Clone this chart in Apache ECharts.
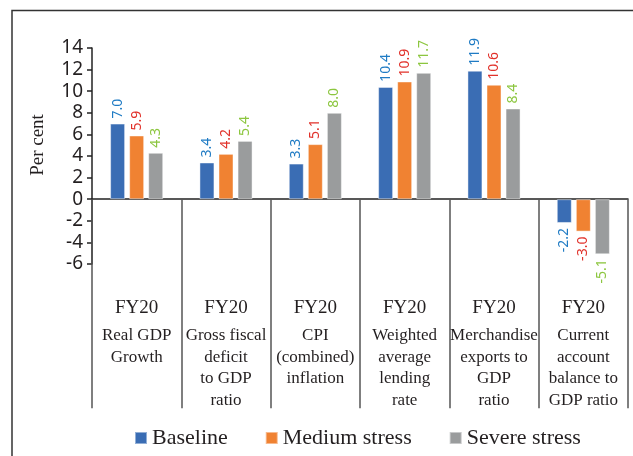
<!DOCTYPE html>
<html><head><meta charset="utf-8">
<script src="https://cdn.jsdelivr.net/npm/echarts@6/dist/echarts.min.js"></script>
<style>html,body{margin:0;padding:0;background:#fff}#c{width:633px;height:456px}</style>
</head><body><div id="c"></div>
<script>
var yearLabel = "FY20";
var categories = ["Real GDP\nGrowth", "Gross fiscal\ndeficit\nto GDP\nratio", "CPI\n(combined)\ninflation", "Weighted\naverage\nlending\nrate", "Merchandise\nexports to\nGDP\nratio", "Current\naccount\nbalance to\nGDP ratio"];
var seriesNames = ["Baseline", "Medium stress", "Severe stress"];
var baseline = [7.0, 3.4, 3.3, 10.4, 11.9, -2.2];
var medium = [5.9, 4.2, 5.1, 10.9, 10.6, -3.0];
var severe = [4.3, 5.4, 8.0, 11.7, 8.4, -5.1];
var yTicks = {min: -6, max: 14, interval: 2};

var barColors = ["#3a6db4", "#f08232", "#9a9c9d"];
var labelColors = ["#1f7bc4", "#e1322b", "#8cc63f"];
var serif = "Liberation Serif";

function mk(name, vals, i) {
  return {
    name: name, type: "bar",
    barWidth: 15, barGap: "27%",
    itemStyle: {color: barColors[i], borderColor: "rgba(255,255,255,0.45)", borderWidth: 1},
    data: vals.map(function (v) {
      return {value: v, label: v < 0 ? {position: "bottom", align: "right"} : {position: "top", align: "left"}};
    }),
    label: {
      show: true, rotate: 90, distance: 5, verticalAlign: "middle",
      color: labelColors[i], fontFamily: "Noto Sans", fontSize: 14,
      formatter: function (p) { return p.value.toFixed(1); }
    }
  };
}

var chart = echarts.init(document.getElementById("c"));
chart.setOption({
  animation: false,
  grid: {left: 92, right: 5, top: 48, bottom: 192, containLabel: false, outerBoundsMode: "none"},
  legend: {
    bottom: 2, left: 129, itemWidth: 12, itemHeight: 12, itemGap: 37, icon: "rect",
    textStyle: {fontFamily: serif, fontSize: 22, color: "#231f20"},
    data: seriesNames
  },
  graphic: [
    {type: "polyline", shape: {points: [[12, 456], [12, 10.5], [633, 10.5]]}, style: {stroke: "#333", lineWidth: 1.5, fill: null}},
    {type: "text", x: 38, y: 145, rotation: Math.PI / 2,
     style: {text: "Per cent", font: "19px " + serif, fill: "#231f20", textAlign: "center", textVerticalAlign: "middle"}}
  ],
  xAxis: {
    type: "category", data: categories,
    axisLine: {onZero: true, lineStyle: {color: "#222", width: 1.5}},
    axisTick: {show: true, length: 209, interval: 0, lineStyle: {color: "#555", width: 1.5}},
    axisLabel: {
      interval: 0, margin: 27, color: "#231f20",
      formatter: function (v) {
        return "{a|" + yearLabel + "}\n" + v.split("\n").map(function (l) { return "{b|" + l + "}"; }).join("\n");
      },
      rich: {
        a: {fontFamily: serif, fontSize: 19, lineHeight: 34, color: "#231f20"},
        b: {fontFamily: serif, fontSize: 17, lineHeight: 21.5, color: "#231f20"}
      }
    }
  },
  yAxis: {
    type: "value", min: yTicks.min, max: yTicks.max, interval: yTicks.interval,
    splitLine: {show: false},
    axisLine: {show: true, lineStyle: {color: "#222", width: 1.5}},
    axisTick: {show: true, length: 5, lineStyle: {color: "#222", width: 1.5}},
    axisLabel: {margin: 9, fontFamily: "Noto Sans", fontSize: 19, color: "#231f20"}
  },
  series: [mk(seriesNames[0], baseline, 0), mk(seriesNames[1], medium, 1), mk(seriesNames[2], severe, 2)]
});
</script>
</body></html>
